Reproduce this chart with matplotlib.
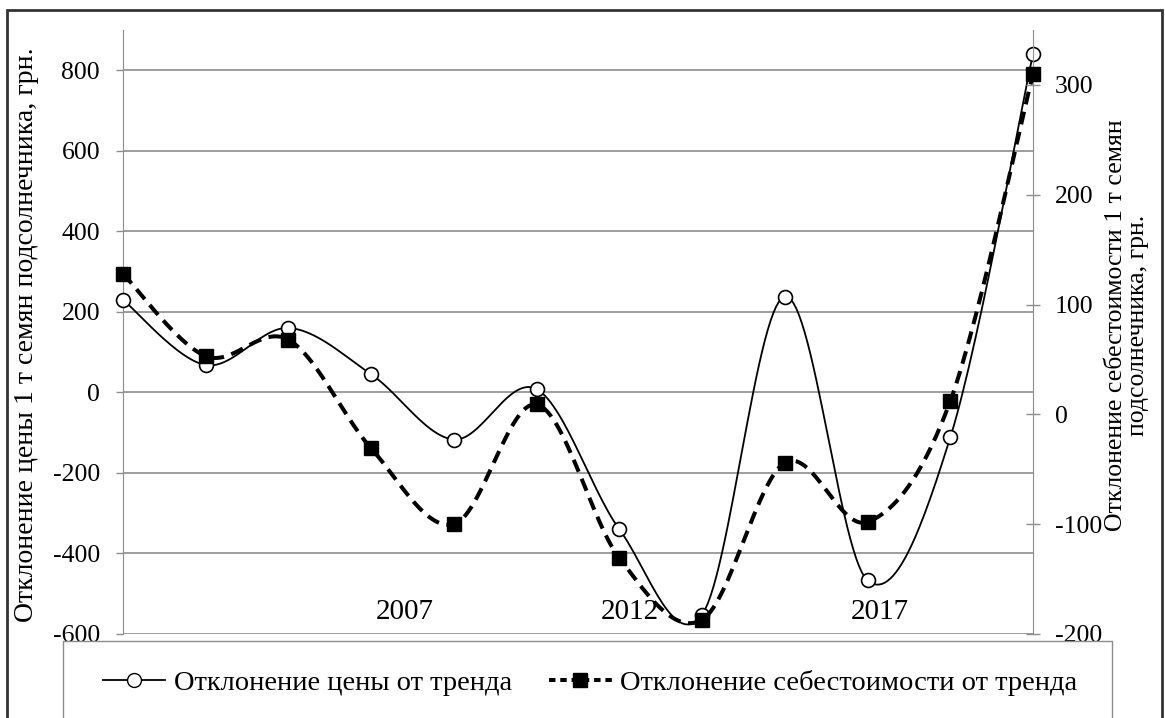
import matplotlib.pyplot as plt
from matplotlib.patches import Rectangle
import numpy as np

plt.rcParams['font.family'] = ['Liberation Serif', 'DejaVu Serif']

# ---------------------------------------------------------------------------
# data (12 points, year labels as in the original)
price_dev = [230, 68, 160, 45, -117, 8, -340, -552, 238, -467, -112, 841]
cost_dev = [128, 53, 68, -31, -100, 9, -131, -187, -44, -98, 12, 310]
year_labels = ['2007', '2012', '2017']
year_label_pos = [3.41, 6.13, 9.15]

left_ticks = [-600, -400, -200, 0, 200, 400, 600, 800]
right_ticks = [-200, -100, 0, 100, 200, 300]

price_name = 'Отклонение цены от тренда'
cost_name = 'Отклонение себестоимости от тренда'
left_label = 'Отклонение цены 1 т семян подсолнечника, грн.'
right_label = 'Отклонение себестоимости 1 т семян\nподсолнечника, грн.'

# ---------------------------------------------------------------------------
def smooth(y, n=30):
    # excel-like smoothed line: bezier through points, catmull-rom controls
    y = np.asarray(y, dtype=float)
    x = np.arange(len(y), dtype=float)
    pts = np.column_stack([x, y])
    out = []
    t = np.linspace(0, 1, n)
    for i in range(len(pts) - 1):
        p0 = pts[max(i - 1, 0)]
        p1 = pts[i]
        p2 = pts[i + 1]
        p3 = pts[min(i + 2, len(pts) - 1)]
        c1 = p1 + (p2 - p0) / 6.0
        c2 = p2 - (p3 - p1) / 6.0
        seg = ((1 - t) ** 3)[:, None] * p1 + (3 * (1 - t) ** 2 * t)[:, None] * c1 \
            + (3 * (1 - t) * t ** 2)[:, None] * c2 + (t ** 3)[:, None] * p2
        out.append(seg if i == 0 else seg[1:])
    out = np.vstack(out)
    return out[:, 0], out[:, 1]

W, H = 1165, 718
fig = plt.figure(figsize=(W / 100, H / 100), dpi=100)
ax = fig.add_axes([123 / W, 1 - 634 / H, (1033 - 123) / W, (634 - 30) / H])
ax2 = ax.twinx()

grid_c = '#8c8c8c'
fs = 18.5

# left axis
ax.set_xlim(0, 11)
ax.set_ylim(-600, 900)
ax.set_yticks(left_ticks)
ax.set_yticklabels([str(v) for v in left_ticks])
ax.grid(axis='y', color=grid_c, linewidth=1.2)
ax.set_xticks([])
ax.tick_params(axis='y', length=5, width=1, color=grid_c, labelsize=fs, pad=11.5)
for s in ['top', 'right', 'bottom']:
    ax.spines[s].set_visible(False)
ax.spines['left'].set_color(grid_c)

# right axis
ax2.set_ylim(-200, 350)
ax2.set_yticks(right_ticks)
ax2.set_yticklabels([str(v) for v in right_ticks])
ax2.tick_params(axis='y', direction='inout', length=10, width=1, color=grid_c,
                labelsize=fs, pad=10.8)
for s in ['top', 'left', 'bottom']:
    ax2.spines[s].set_visible(False)
ax2.spines['right'].set_color(grid_c)

xs = np.arange(len(price_dev))

sx, sy = smooth(price_dev)
ax.plot(sx, sy, color='black', linewidth=1.3, zorder=3)
ax.plot(xs, price_dev, linestyle='none', marker='o', markersize=10,
        markerfacecolor='white', markeredgecolor='black', markeredgewidth=1.2,
        zorder=4, clip_on=False)

cx, cy = smooth(cost_dev)
ax2.plot(cx, cy, color='black', linewidth=2.9, dashes=(3.2, 1.9), zorder=3)
ax2.plot(xs, cost_dev, linestyle='none', marker='s', markersize=10.5,
         color='black', zorder=4, clip_on=False)

for lab, pos in zip(year_labels, year_label_pos):
    ax.text(pos, -545, lab, ha='center', va='center', fontsize=21, zorder=2)

fig.text(27 / W, 1 - 335 / H, left_label, rotation=90, ha='center', va='center',
         fontsize=20)
fig.text(1127 / W, 1 - 325 / H, right_label, rotation=90, ha='center',
         va='center', fontsize=fs, multialignment='center', linespacing=1.0)

# outer frame and legend box
fig.patches.append(Rectangle((7 / W, -0.05), 1155 / W, 1 - 10 / H + 0.05,
                             transform=fig.transFigure, fill=False,
                             edgecolor='#333333', linewidth=2, zorder=1))
fig.patches.append(Rectangle((63 / W, -0.05), (1112 - 63) / W, 1 - 641 / H + 0.05,
                             transform=fig.transFigure, facecolor='white',
                             edgecolor=grid_c, linewidth=1, zorder=4))

h1, = plt.plot([], [], color='black', linewidth=1.3, marker='o', markersize=10,
               markerfacecolor='white', markeredgecolor='black')
h2, = plt.plot([], [], color='black', linewidth=2.9, dashes=(1.6, 1.2), marker='s',
               markersize=10.5)
leg = fig.legend([h1, h2], [price_name, cost_name], ncol=2, frameon=False,
                 loc='center', bbox_to_anchor=(590 / W, 1 - 683 / H),
                 fontsize=20.5, handlelength=2.2, handletextpad=0.3,
                 columnspacing=1.3)
leg.set_zorder(6)

fig.savefig('out.png', dpi=100)
